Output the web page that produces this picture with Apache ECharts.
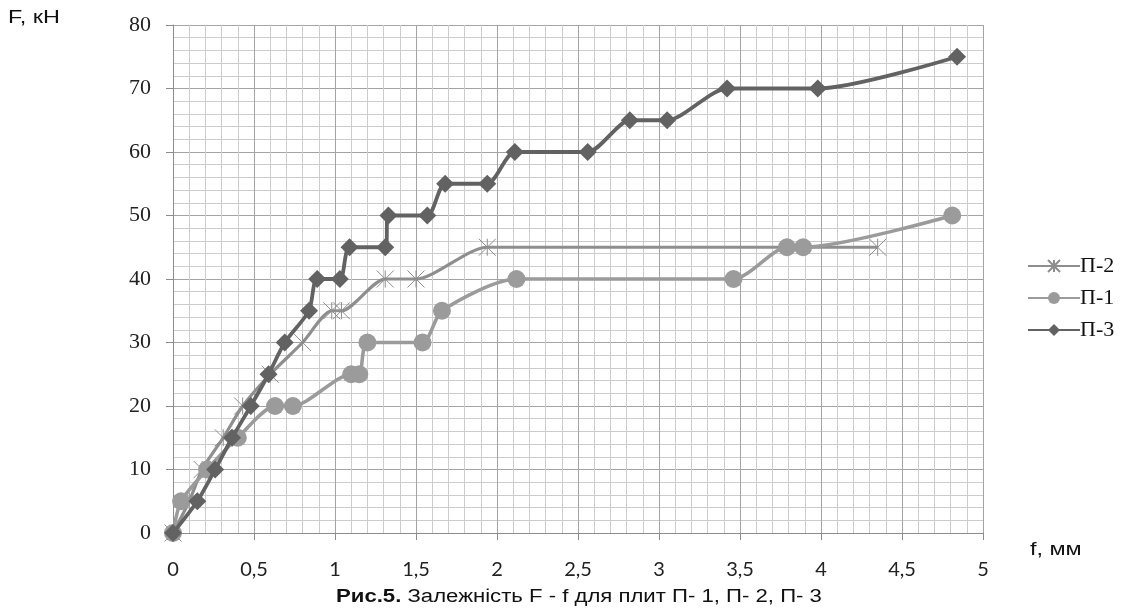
<!DOCTYPE html>
<html>
<head>
<meta charset="utf-8">
<script src="https://cdn.jsdelivr.net/npm/echarts@6/dist/echarts.min.js"></script>
<style>
html,body{margin:0;padding:0;background:#fff;}
#c{width:1129px;height:615px;}
</style>
</head>
<body>
<div id="c"></div>
<script>
// Data
var p2_f = [0, 0.1, 0.18, 0.31, 0.43, 0.6, 0.8, 0.98, 1.04, 1.31, 1.5, 1.94, 4.35];
var p2_F = [0, 5, 10, 15, 20, 25, 30, 35, 35, 40, 40, 45, 45];

var p1_f = [0, 0.05, 0.21, 0.4, 0.63, 0.74, 1.1, 1.15, 1.2, 1.54, 1.66, 2.12, 3.46, 3.79, 3.89, 4.81];
var p1_F = [0, 5, 10, 15, 20, 20, 25, 25, 30, 30, 35, 40, 40, 45, 45, 50];

var p3_f = [0, 0.15, 0.26, 0.365, 0.48, 0.59, 0.69, 0.84, 0.89, 1.03, 1.09, 1.31, 1.33, 1.57, 1.68, 1.94, 2.11, 2.56, 2.82, 3.05, 3.42, 3.98, 4.84];
var p3_F = [0, 5, 10, 15, 20, 25, 30, 35, 40, 40, 45, 45, 50, 50, 55, 55, 60, 60, 65, 65, 70, 70, 75];

var seriesNames = ['П-2', 'П-1', 'П-3'];
var xTicks = {min: 0, max: 5, interval: 0.5};
var yTicks = {min: 0, max: 80, interval: 10};

function zip(a, b) { return a.map(function (v, i) { return [v, b[i]]; }); }

var chart = echarts.init(document.getElementById('c'), null, {renderer: 'canvas'});
var starPath = 'path://M0,0L10,10M10,0L0,10M5,0L5,10';

chart.setOption({
  animation: false,
  backgroundColor: '#ffffff',
  graphic: [
    {type: 'text', x: 8, y: 9, scaleX: 1.3,
     style: {text: 'F, кН', font: '18px "Liberation Sans"', fill: '#111'}},
    {type: 'text', x: 1030, y: 541, scaleX: 1.3,
     style: {text: 'f, мм', font: '18px "Liberation Sans"', fill: '#111'}},
    {type: 'text', x: 336, y: 588, scaleX: 1.23,
     style: {
       text: '{b|Рис.5.} Залежність F - f для плит П- 1, П- 2, П- 3',
       font: '18px "Liberation Sans"', fill: '#111',
       rich: {b: {fontFamily: 'Liberation Sans', fontSize: 18, fontWeight: 'bold', fill: '#111'}}
     }}
  ],
  legend: {
    orient: 'vertical',
    left: 1027,
    top: 255,
    padding: 0,
    itemWidth: 52,
    itemHeight: 15,
    itemGap: 10,
    data: seriesNames,
    textStyle: {fontFamily: 'Liberation Serif', fontSize: 22, color: '#111', padding: [0, 0, 0, -5]}
  },
  grid: {left: 173, right: 146, top: 25, bottom: 82, containLabel: false},
  xAxis: {
    type: 'value',
    min: xTicks.min, max: xTicks.max, interval: xTicks.interval,
    axisLine: {show: true, onZero: false, lineStyle: {color: '#8c8c8c', width: 1}},
    axisTick: {show: true, inside: false, length: 7, lineStyle: {color: '#8c8c8c'}},
    minorTick: {show: false, splitNumber: 5},
    splitLine: {show: true, lineStyle: {color: '#a3a3a3', width: 1}},
    minorSplitLine: {show: true, lineStyle: {color: '#cccccc', width: 1}},
    axisLabel: {
      margin: 27,
      fontFamily: 'Lato',
      fontSize: 20,
      color: '#222',
      formatter: function (v) { return String(v).replace('.', ','); }
    }
  },
  yAxis: {
    type: 'value',
    min: yTicks.min, max: yTicks.max, interval: yTicks.interval,
    axisLine: {show: true, lineStyle: {color: '#8c8c8c', width: 1}},
    axisTick: {show: true, inside: false, length: 7, lineStyle: {color: '#8c8c8c'}},
    minorTick: {show: false, splitNumber: 5},
    splitLine: {show: true, lineStyle: {color: '#a3a3a3', width: 1}},
    minorSplitLine: {show: true, lineStyle: {color: '#cccccc', width: 1}},
    axisLabel: {margin: 22, fontFamily: 'Liberation Serif', fontSize: 22, color: '#222'}
  },
  series: [
    {
      name: seriesNames[0],
      type: 'line',
      data: zip(p2_f, p2_F),
      smooth: 0.25,
      symbol: starPath,
      symbolSize: 17,
      lineStyle: {color: '#8e8e8e', width: 3.2},
      itemStyle: {color: '#8e8e8e', borderColor: '#8e8e8e', borderWidth: 1},
      z: 2
    },
    {
      name: seriesNames[1],
      type: 'line',
      data: zip(p1_f, p1_F),
      smooth: 0.25,
      symbol: 'circle',
      symbolSize: 18,
      lineStyle: {color: '#9b9b9b', width: 3.6},
      itemStyle: {color: '#9b9b9b', borderWidth: 0},
      z: 3
    },
    {
      name: seriesNames[2],
      type: 'line',
      data: zip(p3_f, p3_F),
      smooth: 0.25,
      symbol: 'diamond',
      symbolSize: [18, 18],
      lineStyle: {color: '#626262', width: 3.8},
      itemStyle: {color: '#626262', borderWidth: 0},
      z: 4
    }
  ]
});
</script>
</body>
</html>
